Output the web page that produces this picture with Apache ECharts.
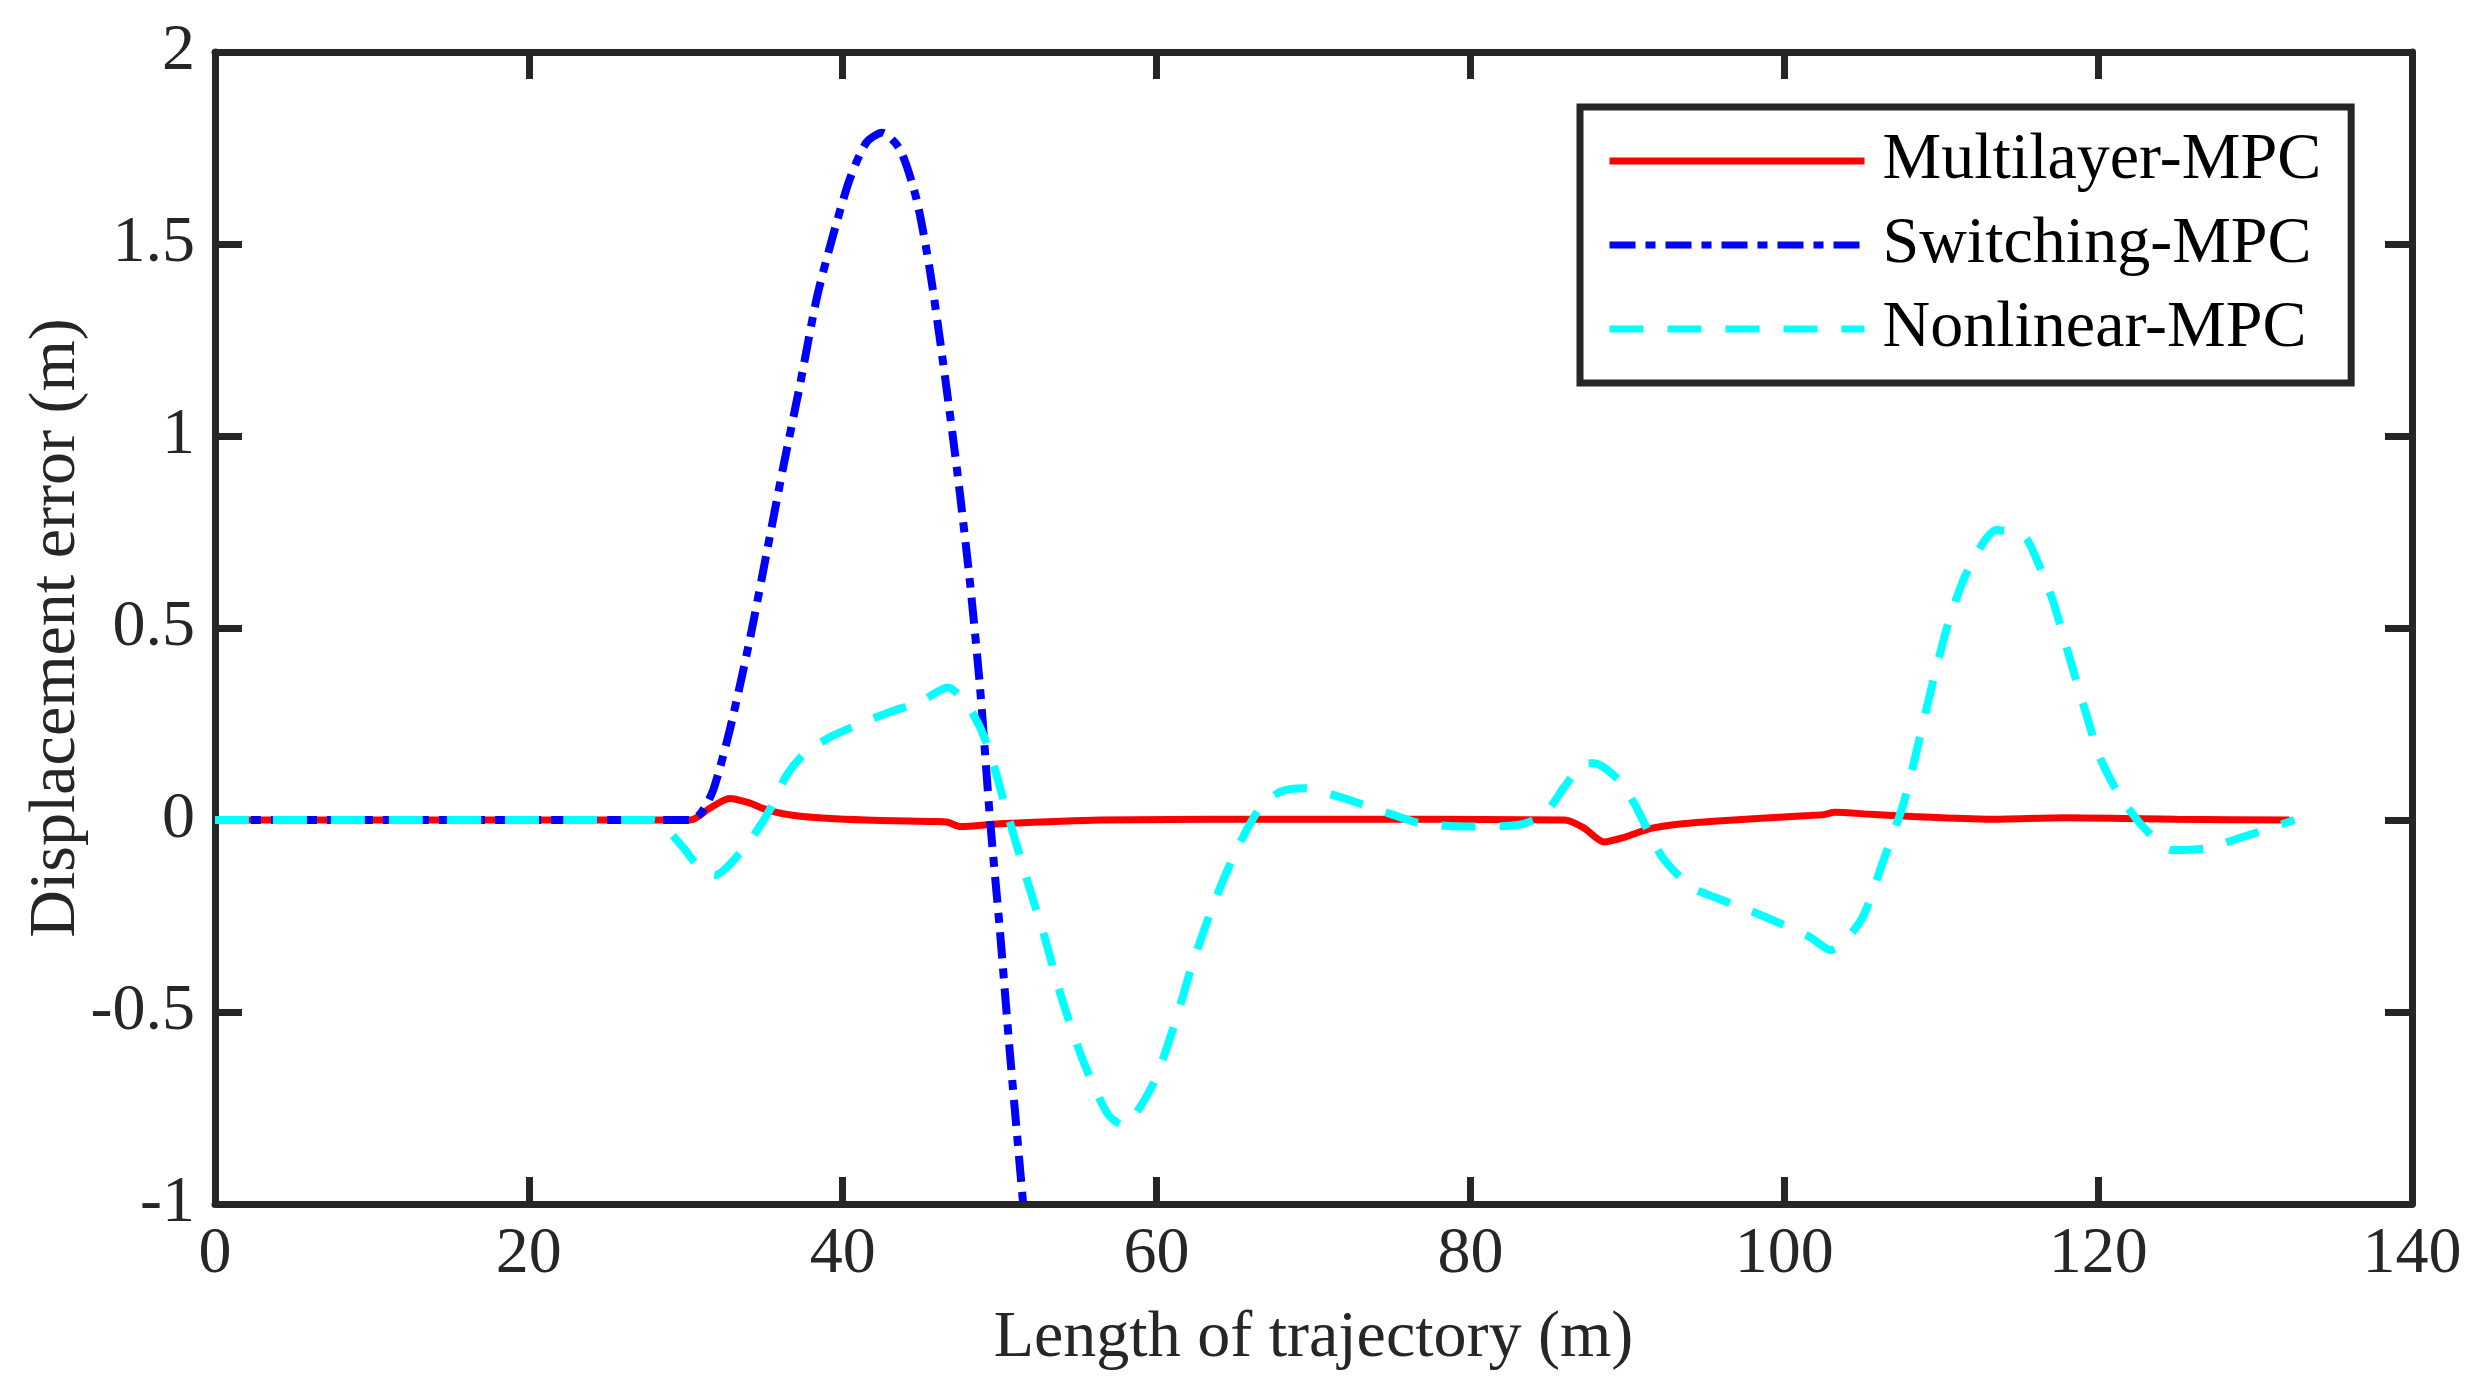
<!DOCTYPE html>
<html>
<head>
<meta charset="utf-8">
<script src="https://cdn.jsdelivr.net/npm/echarts@6/dist/echarts.min.js"></script>
<style>
  html, body { margin: 0; padding: 0; background: #fff; }
  #main { width: 2482px; height: 1391px; }
</style>
</head>
<body>
<div id="main"></div>
<script>
// series names
var seriesNames = ['Multilayer-MPC', 'Switching-MPC', 'Nonlinear-MPC'];

// Multilayer-MPC (red, solid)
var multiX = [0, 30.3, 31.5, 32.8, 34, 35.2, 37.3, 41.5, 45.8, 46.7, 47.5, 50, 56.4, 70, 86, 87.2, 88.5, 89.8, 91.5, 93.5, 95.5, 101.6, 102.5, 103.2, 105.5, 108.2, 113, 118, 125, 132.2];
var multiY = [0, 0, 0.03, 0.056, 0.045, 0.026, 0.01, 0, -0.004, -0.006, -0.017, -0.01, 0, 0.002, 0, -0.02, -0.057, -0.045, -0.022, -0.01, -0.003, 0.012, 0.014, 0.02, 0.015, 0.009, 0.002, 0.006, 0.002, 0];

// Switching-MPC (blue, dash-dot)
var switchX = [0, 30.3, 31, 31.75, 32.8, 34.1, 35.15, 36.2, 37.3, 38.35, 39.4, 40.46, 41.5, 42.5, 43.65, 44.7, 45.56, 46.4, 47.27, 48.1, 48.75, 49.4, 50.0, 50.66, 51.5];
var switchY = [0, 0, 0.02, 0.078, 0.234, 0.474, 0.695, 0.917, 1.138, 1.36, 1.525, 1.67, 1.764, 1.79, 1.746, 1.617, 1.43, 1.19, 0.917, 0.622, 0.345, -0.005, -0.28, -0.61, -1.0];

// Nonlinear-MPC (cyan, dashed)
var nonlinX = [0, 28, 28.6, 29.8, 30.9, 31.9, 33.0, 34.3, 35.4, 36.4, 37.5, 39.2, 41.1, 43.0, 44.9, 46.7, 48.1, 49.2, 50.4, 51.7, 52.9, 54.0, 55.3, 56.85, 57.85, 59.7, 61.1, 62.25, 63.66, 65.1, 66.5, 67.9, 69.4, 71.9, 74.75, 76.75, 79.75, 83.0, 84.7, 86.0, 87.2, 87.9, 89.3, 90.4, 92.2, 94.05, 95.7, 97.7, 99.5, 101.6, 102.95, 104.9, 106.25, 107.6, 108.55, 109.5, 110.5, 111.5, 112.65, 113.5, 115.3, 116.1, 117.1, 118.1, 119.1, 120.1, 121.4, 123.05, 124.7, 127.0, 129.0, 131.3, 132.5];
var nonlinY = [0, 0, -0.015, -0.07, -0.125, -0.143, -0.107, -0.042, 0.03, 0.115, 0.17, 0.216, 0.25, 0.281, 0.307, 0.345, 0.29, 0.198, 0.03, -0.15, -0.31, -0.47, -0.625, -0.763, -0.795, -0.694, -0.538, -0.38, -0.216, -0.078, 0.026, 0.074, 0.083, 0.057, 0.018, -0.008, -0.017, -0.013, 0.015, 0.087, 0.145, 0.148, 0.11, 0.046, -0.095, -0.174, -0.203, -0.234, -0.265, -0.304, -0.339, -0.26, -0.113, 0.043, 0.2, 0.365, 0.52, 0.633, 0.72, 0.755, 0.738, 0.677, 0.573, 0.434, 0.295, 0.165, 0.061, -0.026, -0.078, -0.073, -0.047, -0.017, 0];

// axis ranges
var xRange = [0, 140, 20];
var yRange = [-1, 2, 0.5];

function pairs(xs, ys) {
    return xs.map(function (x, i) { return [x, ys[i]]; });
}

var font = 'Liberation Serif';
var axisColor = '#262626';

var myChart = echarts.init(document.getElementById('main'));

function xAx(pos, main) {
    return {
        type: 'value',
        position: pos,
        min: xRange[0], max: xRange[1], interval: xRange[2],
        name: main ? 'Length of trajectory (m)' : '',
        nameLocation: 'middle',
        nameGap: 102,
        nameTextStyle: { fontFamily: font, fontSize: 66, color: axisColor },
        axisLine: { show: true, onZero: false, lineStyle: { color: axisColor, width: 7 } },
        axisTick: { show: true, inside: true, length: 27, lineStyle: { color: axisColor, width: 7 } },
        axisLabel: { show: main, margin: 18, fontFamily: font, fontSize: 66, color: axisColor },
        splitLine: { show: false }
    };
}
function yAx(pos, main) {
    return {
        type: 'value',
        position: pos,
        min: yRange[0], max: yRange[1], interval: yRange[2],
        name: main ? 'Displacement error (m)' : '',
        nameLocation: 'middle',
        nameGap: 125,
        nameMoveOverlap: false,
        nameTextStyle: { fontFamily: font, fontSize: 66, color: axisColor },
        axisLine: { show: true, onZero: false, lineStyle: { color: axisColor, width: 7 } },
        axisTick: { show: true, inside: true, length: 27, lineStyle: { color: axisColor, width: 7 } },
        axisLabel: { show: main, margin: 20, fontFamily: font, fontSize: 66, color: axisColor },
        splitLine: { show: false }
    };
}

var option = {
    animation: false,
    backgroundColor: '#fff',
    textStyle: { fontFamily: font },
    grid: { left: 215, right: 70, top: 52, bottom: 187, containLabel: false },
    legend: {
        orient: 'vertical',
        left: 1580, top: 107,
        itemWidth: 255, itemHeight: 20, itemGap: 18,
        padding: [21, 30, 21, 26],
        borderColor: axisColor, borderWidth: 7,
        backgroundColor: '#fff',
        itemStyle: { opacity: 0 },
        lineStyle: { width: 7 },
        textStyle: { fontFamily: font, fontSize: 66, color: '#000', padding: [0, 0, 0, 13] },
        data: seriesNames
    },
    xAxis: [xAx('bottom', true), xAx('top', false)],
    yAxis: [yAx('left', true), yAx('right', false)],
    series: [
        {
            name: seriesNames[0], type: 'line', symbol: 'none', smooth: 0.25,
            lineStyle: { color: '#ff0000', width: 7 },
            itemStyle: { color: '#ff0000' },
            data: pairs(multiX, multiY)
        },
        {
            name: seriesNames[1], type: 'line', symbol: 'none', smooth: 0.25,
            lineStyle: { color: '#0000ff', width: 8, type: [26, 10, 10, 10] },
            itemStyle: { color: '#0000ff' },
            data: pairs(switchX, switchY)
        },
        {
            name: seriesNames[2], type: 'line', symbol: 'none', smooth: 0.25,
            lineStyle: { color: '#00ffff', width: 8, type: [34, 24] },
            itemStyle: { color: '#00ffff' },
            data: pairs(nonlinX, nonlinY)
        }
    ]
};
myChart.setOption(option);
window.onresize = function () {
    myChart.resize();
};
</script>
</body>
</html>
